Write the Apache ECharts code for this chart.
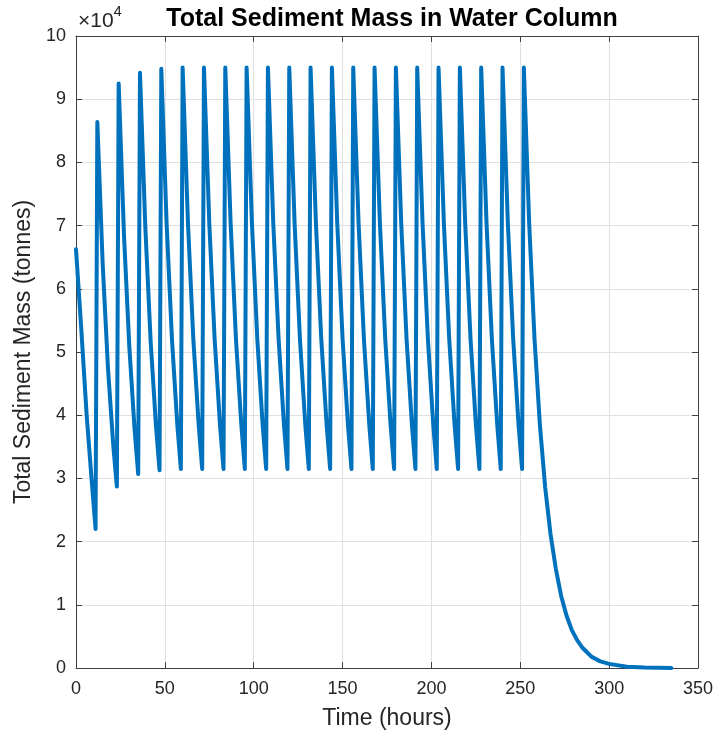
<!DOCTYPE html>
<html>
<head>
<meta charset="utf-8">
<script src="https://cdn.jsdelivr.net/npm/echarts@6/dist/echarts.min.js"></script>
<style>
  html, body { margin: 0; padding: 0; background: #fff; }
  #main { width: 717px; height: 736px; }
</style>
</head>
<body>
<div id="main"></div>
<script>
// readings per 12 h cycle: start of cycle (hours) and mass at +0, +3, +6, +9, +11 h
var cycleStart = [0, 12, 24, 36, 48, 60, 72, 84, 96, 108, 120, 132, 144, 156, 168, 180, 192, 204, 216, 228, 240];
var massStart  = [66250, 86400, 92500, 94200, 94800, 95000, 95000, 95000, 95000, 95000, 95000, 95000, 95000, 95000, 95000, 95000, 95000, 95000, 95000, 95000, 95000];
var mass3h     = [53500, 64000, 68500, 69800, 70200, 70400, 70400, 70400, 70400, 70400, 70400, 70400, 70400, 70400, 70400, 70400, 70400, 70400, 70400, 70400, 70400];
var mass6h     = [40000, 47400, 50800, 51700, 52000, 52100, 52100, 52100, 52100, 52100, 52100, 52100, 52100, 52100, 52100, 52100, 52100, 52100, 52100, 52100, 52100];
var mass9h     = [29000, 35100, 37600, 38300, 38500, 38600, 38600, 38600, 38600, 38600, 38600, 38600, 38600, 38600, 38600, 38600, 38600, 38600, 38600, 38600, 38600];
var massTrough = [22000, 28700, 30700, 31300, 31500, 31500, 31500, 31500, 31500, 31500, 31500, 31500, 31500, 31500, 31500, 31500, 31500, 31500, 31500, 31500, 31500];

// final decay after the last peak
var tailHours = [252, 255, 258, 261, 264, 267, 270, 273, 276, 279, 282, 285, 290, 295, 300, 310, 320, 335];
var tailMass  = [95000, 70400, 52100, 38600, 28600, 21200, 15700, 11400, 8300, 6000, 4400, 3200, 1800, 1050, 650, 200, 60, 10];

var xTicks = [0, 50, 100, 150, 200, 250, 300, 350];
var yTicks = [0, 1, 2, 3, 4, 5, 6, 7, 8, 9, 10]; // x 10^4

var points = [];
for (var i = 0; i < cycleStart.length; i++) {
    var t = cycleStart[i];
    points.push([t, massStart[i]]);
    points.push([t + 3, mass3h[i]]);
    points.push([t + 6, mass6h[i]]);
    points.push([t + 9, mass9h[i]]);
    points.push([t + 11, massTrough[i]]);
}
for (var j = 0; j < tailHours.length; j++) {
    points.push([tailHours[j], tailMass[j]]);
}

var myChart = echarts.init(document.getElementById('main'));

var txt = '#262626';
var axisCol = '#404040';
var font = 'Liberation Sans';
var gridLine = { show: true, lineStyle: { color: '#e0e0e0', width: 1 } };
var tick = { show: true, inside: true, length: 6, lineStyle: { color: axisCol } };
var line = { show: true, onZero: false, lineStyle: { color: axisCol } };

var option = {
    backgroundColor: '#fff',
    animation: false,
    title: {
        text: 'Total Sediment Mass in Water Column',
        left: 387, top: 2, textAlign: 'center',
        textStyle: { fontFamily: font, fontWeight: 'bold', fontSize: 25, color: '#000' }
    },
    grid: { left: 76, right: 19, top: 36, bottom: 68 },
    graphic: [{
        type: 'text', left: 78, top: 4,
        style: {
            text: '{a|\u00d710}{b|4}',
            rich: {
                a: { fontFamily: font, fontSize: 21, fill: txt, padding: [7, 0, 0, 0] },
                b: { fontFamily: font, fontSize: 15, fill: txt, verticalAlign: 'top' }
            }
        }
    }],
    xAxis: [{
        type: 'value', min: 0, max: 350, interval: 50,
        name: 'Time (hours)', nameLocation: 'middle', nameGap: 39,
        nameTextStyle: { fontFamily: font, fontSize: 23, color: txt },
        axisLine: line, axisTick: tick,
        axisLabel: {
            margin: 12, fontFamily: font, fontSize: 18, color: txt,
            formatter: function (v) { return xTicks.indexOf(v) >= 0 ? String(v) : ''; }
        },
        splitLine: gridLine
    }, {
        type: 'value', min: 0, max: 350, interval: 50, position: 'top',
        axisLine: line, axisTick: tick,
        axisLabel: { show: false }, splitLine: { show: false }
    }],
    yAxis: [{
        type: 'value', min: 0, max: 100000, interval: 10000,
        name: 'Total Sediment Mass (tonnes)', nameLocation: 'middle', nameGap: 38,
        nameTextStyle: { fontFamily: font, fontSize: 23, color: txt },
        axisLine: line, axisTick: tick,
        axisLabel: {
            margin: 10, fontFamily: font, fontSize: 18, color: txt,
            formatter: function (v) { return String(yTicks[Math.round(v / 10000)]); }
        },
        splitLine: gridLine
    }, {
        type: 'value', min: 0, max: 100000, interval: 10000, position: 'right',
        axisLine: line, axisTick: tick,
        axisLabel: { show: false }, splitLine: { show: false }
    }],
    series: [{
        type: 'line',
        xAxisIndex: 0, yAxisIndex: 0,
        data: points,
        showSymbol: false,
        smooth: false,
        lineStyle: { color: '#0072BD', width: 4, join: 'round', cap: 'round' }
    }]
};

myChart.setOption(option);
</script>
</body>
</html>
